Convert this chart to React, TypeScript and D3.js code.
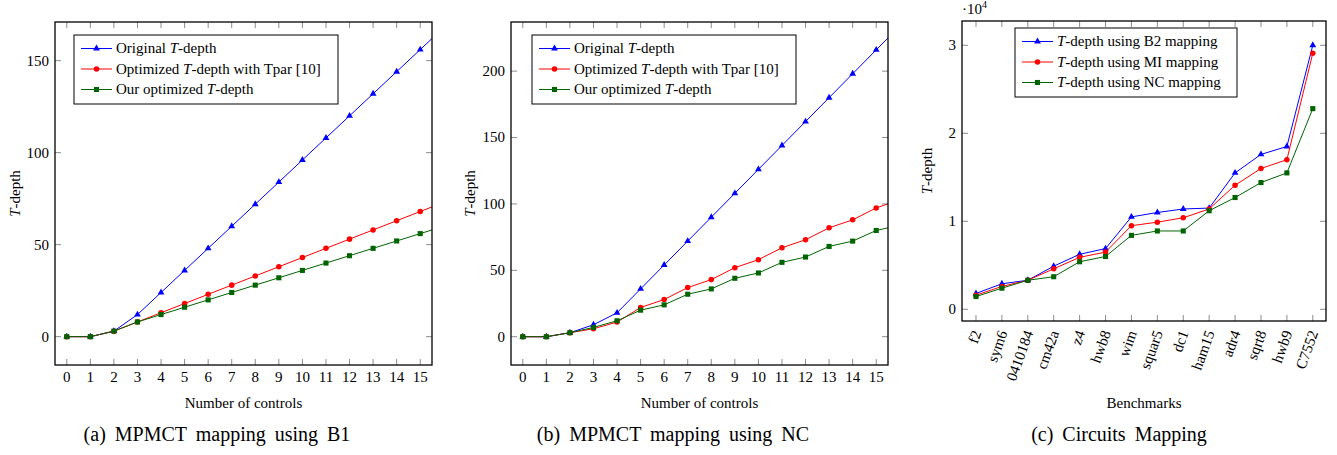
import React, { useEffect, useRef } from "react";
import * as d3 from "d3";

// controls 0..16 (16 lies past the right edge and gets clipped)
const controls = d3.range(0, 17);

const b1Original = [0, 0, 3, 12, 24, 36, 48, 60, 72, 84, 96, 108, 120, 132, 144, 156, 168];
const b1Tpar = [0, 0, 3, 8, 13, 18, 23, 28, 33, 38, 43, 48, 53, 58, 63, 68, 73];
const b1Ours = [0, 0, 3, 8, 12, 16, 20, 24, 28, 32, 36, 40, 44, 48, 52, 56, 60];

const ncOriginal = [0, 0, 3, 9, 18, 36, 54, 72, 90, 108, 126, 144, 162, 180, 198, 216, 234];
const ncTpar = [0, 0, 3, 6, 11, 22, 28, 37, 43, 52, 58, 67, 73, 82, 88, 97, 103];
const ncOurs = [0, 0, 3, 7, 12, 20, 24, 32, 36, 44, 48, 56, 60, 68, 72, 80, 84];

const benchmarks = ["f2", "sym6", "0410184", "cm42a", "z4", "hwb8", "wim", "squar5", "dc1", "ham15", "adr4", "sqrt8", "hwb9", "C7552"];
const depthB2 = [1800, 2900, 3300, 4900, 6250, 6900, 10500, 11000, 11400, 11500, 15500, 17600, 18500, 30000];
const depthMI = [1600, 2600, 3300, 4600, 5900, 6500, 9500, 9900, 10400, 11400, 14100, 16000, 17000, 29100];
const depthNC = [1450, 2400, 3300, 3700, 5400, 6000, 8400, 8900, 8900, 11200, 12700, 14400, 15500, 22800];

const ticksA = [0, 50, 100, 150];
const ticksB = [0, 50, 100, 150, 200];
const ticksC = [0, 1, 2, 3];

const FONT = "'Liberation Serif', 'Times New Roman', serif";
const BLUE = "#0000ff";
const RED = "#ff0000";
const GREEN = "#006400";

function drawLegend(g, x, y, w, h, items) {
    const lg = g.append('g');
    lg.append('rect')
        .attr('x', x).attr('y', y).attr('width', w).attr('height', h)
        .attr('fill', 'white').attr('stroke', 'black').attr('stroke-width', 1);
    items.forEach((it, i) => {
        const cy = y + 13.5 + i * 20.5;
        lg.append('line')
            .attr('x1', x + 7).attr('x2', x + 38).attr('y1', cy).attr('y2', cy)
            .attr('stroke', it.color).attr('stroke-width', 1);
        lg.append('path')
            .attr('transform', `translate(${x + 22.5},${cy})`)
            .attr('d', d3.symbol().type(it.shape).size(it.size)())
            .attr('fill', it.color);
        const t = lg.append('text')
            .attr('x', x + 42).attr('y', cy).attr('dy', '0.33em')
            .attr('font-size', 15).attr('font-family', FONT);
        it.label.forEach((part) => {
            t.append('tspan').attr('font-style', part.i ? 'italic' : 'normal').text(part.t);
        });
    });
}

function drawPanel(svg, cfg) {
    const { left, top, right, bottom } = cfg;
    const g = svg.append('g');
    const x = d3.scaleLinear().domain(cfg.xDomain).range([left, right]);
    const y = d3.scaleLinear().domain(cfg.yDomain).range([bottom, top]);

    const clipId = 'clip-' + cfg.id;
    g.append('clipPath').attr('id', clipId)
        .append('rect').attr('x', left).attr('y', top).attr('width', right - left).attr('height', bottom - top);

    // ticks, inside on all four sides
    const tickColor = '#8c8c8c';
    cfg.xTicks.forEach((v) => {
        g.append('line').attr('x1', x(v)).attr('x2', x(v)).attr('y1', bottom).attr('y2', bottom - 6)
            .attr('stroke', tickColor);
        g.append('line').attr('x1', x(v)).attr('x2', x(v)).attr('y1', top).attr('y2', top + 6)
            .attr('stroke', tickColor);
    });
    cfg.yTicks.forEach((v) => {
        g.append('line').attr('x1', left).attr('x2', left + 6).attr('y1', y(v)).attr('y2', y(v))
            .attr('stroke', tickColor);
        g.append('line').attr('x1', right).attr('x2', right - 6).attr('y1', y(v)).attr('y2', y(v))
            .attr('stroke', tickColor);
        g.append('text')
            .attr('x', left - 6).attr('y', y(v)).attr('dy', '0.33em')
            .attr('text-anchor', 'end').attr('font-size', 15).attr('font-family', FONT)
            .text(cfg.yFormat(v));
    });

    if (cfg.xLabels) {
        cfg.xTicks.forEach((v, i) => {
            g.append('text')
                .attr('transform', `translate(${x(v) + 1},${bottom + 10}) rotate(-70)`)
                .attr('dy', '0.33em')
                .attr('text-anchor', 'end').attr('font-size', 15).attr('font-family', FONT)
                .text(cfg.xLabels[i]);
        });
    } else {
        cfg.xTicks.forEach((v) => {
            g.append('text')
                .attr('x', x(v)).attr('y', bottom + 17)
                .attr('text-anchor', 'middle').attr('font-size', 15).attr('font-family', FONT)
                .text(v);
        });
    }

    const plot = g.append('g').attr('clip-path', `url(#${clipId})`);
    cfg.series.forEach((s) => {
        const pts = s.values.map((v, i) => [cfg.xs[i], v]);
        plot.append('path')
            .datum(pts)
            .attr('fill', 'none').attr('stroke', s.color).attr('stroke-width', 1)
            .attr('d', d3.line().x((d) => x(d[0])).y((d) => y(d[1])));
        plot.selectAll(null).data(pts).enter().append('path')
            .attr('transform', (d) => `translate(${x(d[0])},${y(d[1])})`)
            .attr('d', d3.symbol().type(s.shape).size(s.size)())
            .attr('fill', s.color);
    });

    g.append('rect')
        .attr('x', left).attr('y', top).attr('width', right - left).attr('height', bottom - top)
        .attr('fill', 'none').attr('stroke', 'black').attr('stroke-width', 1.3);

    // axis titles
    const yl = g.append('text')
        .attr('transform', `translate(${cfg.yTitleX},${(top + bottom) / 2}) rotate(-90)`)
        .attr('text-anchor', 'middle').attr('font-size', 15).attr('font-family', FONT);
    yl.append('tspan').attr('font-style', 'italic').text('T');
    yl.append('tspan').text('-depth');

    g.append('text')
        .attr('x', (left + right) / 2).attr('y', 408)
        .attr('text-anchor', 'middle').attr('font-size', 15).attr('font-family', FONT)
        .text(cfg.xTitle);

    g.append('text')
        .attr('x', cfg.captionX).attr('y', 441)
        .attr('text-anchor', 'middle').attr('font-size', 20).attr('font-family', FONT)
        .attr('word-spacing', 4)
        .text(cfg.caption);

    drawLegend(g, cfg.legend[0], cfg.legend[1], cfg.legend[2], cfg.legend[3], cfg.legendItems);
    return g;
}

export default function App() {
    const ref = useRef(null);

    useEffect(() => {
        const svg = d3.select(ref.current);
        svg.selectAll('*').remove();

        const tri = { shape: d3.symbolTriangle, size: 20 };
        const dot = { shape: d3.symbolCircle, size: 24 };
        const sq = { shape: d3.symbolSquare, size: 26 };

        const mpmctItems = [
            { color: BLUE, ...tri, label: [{ t: 'Original ' }, { t: 'T', i: true }, { t: '-depth' }] },
            { color: RED, ...dot, label: [{ t: 'Optimized ' }, { t: 'T', i: true }, { t: '-depth with Tpar [10]' }] },
            { color: GREEN, ...sq, label: [{ t: 'Our optimized ' }, { t: 'T', i: true }, { t: '-depth' }] },
        ];

        drawPanel(svg, {
            id: 'a', left: 55, top: 22, right: 432, bottom: 365,
            xDomain: [-0.5, 15.5], yDomain: [-15.4, 171],
            xTicks: d3.range(0, 16), yTicks: ticksA, yFormat: (v) => v, xs: controls,
            series: [
                { values: b1Original, color: BLUE, ...tri },
                { values: b1Tpar, color: RED, ...dot },
                { values: b1Ours, color: GREEN, ...sq },
            ],
            yTitleX: 20, xTitle: 'Number of controls', caption: '(a) MPMCT mapping using B1', captionX: 217,
            legend: [74, 35, 264, 69], legendItems: mpmctItems,
        });

        drawPanel(svg, {
            id: 'b', left: 511, top: 22, right: 888, bottom: 365,
            xDomain: [-0.5, 15.5], yDomain: [-21.3, 237],
            xTicks: d3.range(0, 16), yTicks: ticksB, yFormat: (v) => v, xs: controls,
            series: [
                { values: ncOriginal, color: BLUE, ...tri },
                { values: ncTpar, color: RED, ...dot },
                { values: ncOurs, color: GREEN, ...sq },
            ],
            yTitleX: 475, xTitle: 'Number of controls', caption: '(b) MPMCT mapping using NC', captionX: 673,
            legend: [532, 35, 264, 69], legendItems: mpmctItems,
        });

        const idx = d3.range(benchmarks.length);
        const gc = drawPanel(svg, {
            id: 'c', left: 962, top: 21, right: 1326, bottom: 321,
            xDomain: [-0.54, 13.51], yDomain: [-1330, 32760],
            xTicks: idx, xLabels: benchmarks, yTicks: ticksC.map((v) => v * 10000), yFormat: (v) => v / 10000, xs: idx,
            series: [
                { values: depthB2, color: BLUE, ...tri },
                { values: depthMI, color: RED, ...dot },
                { values: depthNC, color: GREEN, ...sq },
            ],
            yTitleX: 932, xTitle: 'Benchmarks', caption: '(c) Circuits Mapping', captionX: 1119,
            legend: [1015, 28, 222, 69],
            legendItems: [
                { color: BLUE, ...tri, label: [{ t: 'T', i: true }, { t: '-depth using B2 mapping' }] },
                { color: RED, ...dot, label: [{ t: 'T', i: true }, { t: '-depth using MI mapping' }] },
                { color: GREEN, ...sq, label: [{ t: 'T', i: true }, { t: '-depth using NC mapping' }] },
            ],
        });

        const sc = gc.append('text')
            .attr('x', 962).attr('y', 14)
            .attr('font-size', 15).attr('font-family', FONT);
        sc.append('tspan').text('·10');
        sc.append('tspan').attr('font-size', 10).attr('dy', -6).text('4');
    }, []);

    return (
        <svg ref={ref} width={1337} height={455}
            style={{ position: 'absolute', left: 0, top: 0, background: 'white' }} />
    );
}
